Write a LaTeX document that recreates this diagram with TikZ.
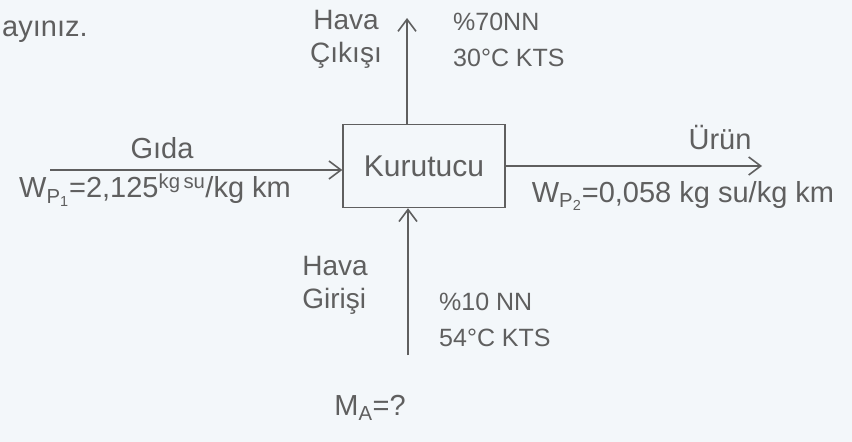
\documentclass[tikz,border=0pt]{standalone}
\usepackage{fontspec}
\setmainfont{Liberation Sans}
\usetikzlibrary{arrows.meta}
\definecolor{paper}{RGB}{243,247,250}
\definecolor{pencil}{RGB}{95,95,95}
\begin{document}
\begin{tikzpicture}[x=1pt,y=-1pt,
  lbl/.style={text=pencil,font=\fontsize{29}{32}\selectfont,inner sep=1pt},
  sml/.style={text=pencil,font=\fontsize{25}{36}\selectfont,inner sep=1pt},
  stack/.style={text=pencil,font=\fontsize{28}{33}\selectfont,inner sep=1pt},
  flow/.style={draw=pencil,line width=1.6pt,-{Straight Barb[length=12pt,width=18pt,line width=1.6pt]}},
  unit/.style={draw=pencil,line width=1.4pt,minimum width=162pt,minimum height=83pt,text=pencil,font=\fontsize{30}{32}\selectfont}]
\fill[paper] (0,0) rectangle (852,442);
\useasboundingbox (0,0) rectangle (852,442);
\node[unit] (kur) at (424,166) {Kurutucu};
\coordinate (in) at (50,170);
\coordinate (out) at (762,166);
\coordinate (top) at (407,18);
\coordinate (bot) at (408,355);
\draw[flow] (in) -- (kur.west |- in);
\draw[flow] (kur.east |- out) -- (out);
\draw[flow] (kur.north -| top) -- (top);
\draw[flow] (bot) -- (kur.south -| bot);
\node[lbl,anchor=west] (say) at (1,32) {ayınız.};
\node[lbl] (gida) at (162,148) {Gıda};
\node[lbl] (wp1) at (155,190) {W$_{\mathrm{P_1}}$=2,125$^{\mathrm{kg\,su}}$/kg km};
\node[lbl] (urun) at (720,138) {Ürün};
\node[lbl] (wp2) at (683,196) {W$_{\mathrm{P_2}}$=0,058 kg su/kg km};
\node[stack,align=center] (hc) at (346,39) {Hava\\Çıkışı};
\node[sml,align=left,anchor=west] (c70) at (452,40) {\%70NN\\30°C KTS};
\node[stack,align=left] (hg) at (335,285) {Hava\\Girişi};
\node[sml,align=left,anchor=west] (c10) at (438,320) {\%10 NN\\54°C KTS};
\node[lbl] (ma) at (370,408) {M$_{\mathrm{A}}$=?};
\end{tikzpicture}
\end{document}
